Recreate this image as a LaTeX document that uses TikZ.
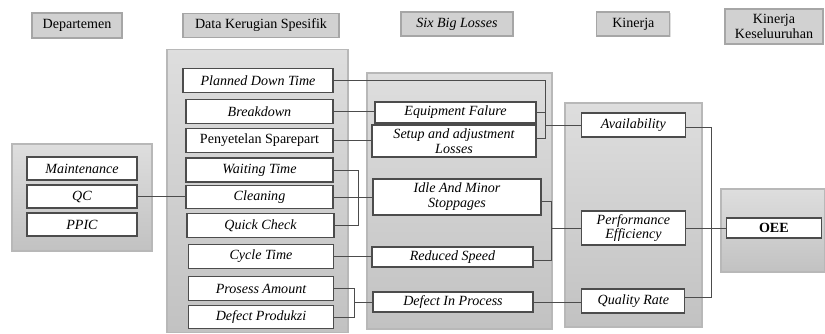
\documentclass[tikz,border=0pt]{standalone}
\usepackage{fontspec}
\setmainfont{Liberation Serif}
\usetikzlibrary{positioning,shadows}
\tikzset{
    font={\fontsize{10pt}{10.5}\selectfont},
    head/.style={
           rectangle,
           draw=black!35, thick,
           fill=black!18,
           inner sep=1pt,
           text centered,
           drop shadow={opacity=0.25,shadow xshift=0.6pt,shadow yshift=-0.6pt},
           },
    panel/.style={
           rectangle,
           draw=black!28, very thick,
           top color=black!13, bottom color=black!24,
           inner sep=0pt,
           },
    item/.style={
           rectangle,
           draw=black!70, thick,
           fill=white,
           inner sep=1pt,
           minimum height=0.6cm,
           text centered,
           font={\fontsize{10pt}{10.5}\selectfont\itshape},
           },
    upright/.style={font={\fontsize{10pt}{10.5}\selectfont}},
    link/.style={draw=black!70, semithick},
}
\begin{document}
\begin{tikzpicture}

\useasboundingbox (-1.925,0.6375) rectangle (18.7,-7.7125);

% Column heads
\node[head, minimum width=2.25cm, minimum height=0.625cm] (DEPT) {Departemen};
\node[head, right of=DEPT, node distance=4.6cm, anchor=center, minimum width=3.9cm, minimum height=0.6cm] (DATA) {Data Kerugian Spesifik};
\node[head, right of=DEPT, node distance=9.5cm, yshift=0.0375cm, anchor=center, minimum width=2.8cm, minimum height=0.6cm] (LOSSES) {\textit{Six Big Losses}};
\node[head, right of=DEPT, node distance=13.91cm, yshift=0.0375cm, anchor=center, minimum width=1.825cm, minimum height=0.6cm] (KINERJA) {Kinerja};
\node[head, right of=DEPT, node distance=17.425cm, yshift=-0.025cm, anchor=center, minimum width=2.45cm, minimum height=0.875cm, align=center] (OVERALL) {Kinerja\\Keseluuruhan};

% Column panels
\node[panel, below of=DEPT, node distance=4.3cm, xshift=0.125cm, minimum width=3.5cm, minimum height=2.675cm] (DEPTBOX) {};
\node[panel, below of=DATA, node distance=4.1375cm, xshift=-0.0875cm, minimum width=4.525cm, minimum height=7.075cm] (DATABOX) {};
\node[panel, below of=LOSSES, node distance=4.425cm, xshift=0.0625cm, minimum width=4.625cm, minimum height=6.4cm] (LOSSESBOX) {};
\node[panel, below of=KINERJA, node distance=4.775cm, minimum width=3.425cm, minimum height=5.6cm] (KINERJABOX) {};
\node[panel, below of=OVERALL, node distance=5.1cm, xshift=-0.025cm, minimum width=2.6cm, minimum height=2.075cm] (OVERALLBOX) {};

% Departemen
\node[item, above of=DEPTBOX, node distance=0.725cm, minimum width=2.75cm, minimum height=0.575cm] (MAINT) {Maintenance};
\node[item, below of=MAINT, node distance=0.7cm, minimum width=2.75cm, minimum height=0.575cm] (QC) {QC};
\node[item, below of=QC, node distance=0.7cm, minimum width=2.75cm, minimum height=0.575cm] (PPIC) {PPIC};

% Data Kerugian Spesifik
\node[item, below of=DATA, node distance=1.375cm, xshift=-0.075cm, minimum width=3.75cm] (PLANNED) {Planned Down Time};
\node[item, below of=PLANNED, node distance=0.775cm, xshift=0.0375cm, minimum width=3.675cm] (BREAKDOWN) {Breakdown};
\node[item, upright, below of=BREAKDOWN, node distance=0.725cm, minimum width=3.675cm] (SPAREPART) {Penyetelan Sparepart};
\node[item, below of=SPAREPART, node distance=0.7375cm, minimum width=3.675cm] (WAITING) {Waiting Time};
\node[item, below of=WAITING, node distance=0.675cm, minimum width=3.675cm, minimum height=0.575cm] (CLEANING) {Cleaning};
\node[item, below of=CLEANING, node distance=0.7125cm, xshift=0.025cm, minimum width=3.675cm] (QUICK) {Quick Check};
\node[item, below of=QUICK, node distance=0.775cm, xshift=0.0125cm, minimum width=3.625cm] (CYCLE) {Cycle Time};
\node[item, below of=CYCLE, node distance=0.8cm, minimum width=3.625cm] (AMOUNT) {Prosess Amount};
\node[item, below of=AMOUNT, node distance=0.7125cm, minimum width=3.625cm, minimum height=0.575cm] (DEFECT) {Defect Produkzi};

% Six Big Losses
\node[item, below of=LOSSES, node distance=2.2125cm, xshift=-0.0375cm, minimum width=4.025cm, minimum height=0.525cm] (FAILURE) {Equipment Falure};
\node[item, below of=FAILURE, node distance=0.7125cm, xshift=-0.0375cm, minimum width=4.1cm, minimum height=0.8cm, align=center] (SETUP) {Setup and adjustment\\Losses};
\node[item, below of=SETUP, node distance=1.4cm, xshift=0.075cm, minimum width=4.2cm, minimum height=0.9cm, align=center] (IDLE) {Idle And Minor\\Stoppages};
\node[item, below of=IDLE, node distance=1.5cm, xshift=-0.1125cm, minimum width=4.025cm, minimum height=0.5cm] (SPEED) {Reduced Speed};
\node[item, below of=SPEED, node distance=1.125cm, xshift=0.0125cm, minimum width=4cm, minimum height=0.5cm] (PROCESS) {Defect In Process};

% Kinerja
\node[item, below of=KINERJA, node distance=2.525cm, minimum width=2.6cm] (AVAIL) {Availability};
\node[item, below of=AVAIL, node distance=2.575cm, minimum width=2.6cm, minimum height=0.85cm, align=center] (PERF) {Performance\\Efficiency};
\node[item, below of=PERF, node distance=1.825cm, minimum width=2.575cm] (QUALITY) {Quality Rate};

% Kinerja Keseluruhan
\node[item, right of=PERF, node distance=3.5125cm, anchor=center, minimum width=2.375cm, minimum height=0.5cm, font={\fontsize{10pt}{10.5}\selectfont\bfseries}] (OEE) {OEE};

% bus points
\coordinate[xshift=0.225cm] (BUSA) at (FAILURE.east);
\coordinate[xshift=0.625cm] (BUSB) at (WAITING.east);
\coordinate[xshift=0.5cm] (BUSC) at (AMOUNT.east);
\coordinate[xshift=0.25cm, yshift=-0.1cm] (BUSD) at (IDLE.east);
\coordinate[xshift=0.625cm, yshift=-0.05cm] (BUSE) at (AVAIL.east);

\path[link] (QC.east)        edge (QC.east -| CLEANING.west)
(BREAKDOWN.east)  edge (BREAKDOWN.east -| FAILURE.west)
(SPAREPART.east)  edge (SPAREPART.east -| SETUP.west)
(CLEANING.east)   edge (CLEANING.east -| IDLE.west)
(CYCLE.east)      edge (CYCLE.east -| SPEED.west)
(FAILURE.east)    edge (BUSA)
(BUSA |- AVAIL.west) edge (AVAIL.west)
(BUSC |- PROCESS.west) edge (PROCESS.west)
(BUSD |- PERF.west) edge (PERF.west)
(PROCESS.east)    edge (PROCESS.east -| QUALITY.west)
(PERF.east)       edge (OEE.west)
;

\draw[link] (PLANNED.east) -| (BUSA) |- ([yshift=0.075cm]SETUP.east);
\draw[link] (WAITING.east) -- (BUSB) |- (QUICK.east);
\draw[link] (AMOUNT.east) -- (BUSC) |- (DEFECT.east);
\draw[link] ([yshift=-0.1cm]IDLE.east) -- (BUSD) |- ([yshift=-0.075cm]SPEED.east);
\draw[link] ([yshift=-0.05cm]AVAIL.east) -- (BUSE) |- ([yshift=0.1cm]QUALITY.east);

\end{tikzpicture}
\end{document}
